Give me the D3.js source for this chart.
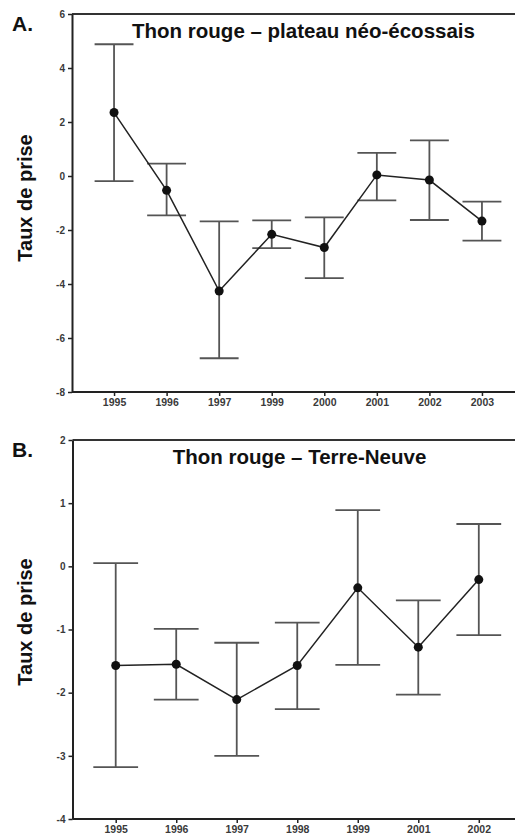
<!DOCTYPE html>
<html>
<head>
<meta charset="utf-8">
<script src="https://cdn.jsdelivr.net/npm/d3@7"></script>
<style>
  body { margin: 0; background: #fff; }
  svg { display: block; font-family: "Liberation Sans", Arial, sans-serif; }
</style>
</head>
<body>
<svg id="chart" width="515" height="835"></svg>
<script>
// Panel A - plateau néo-écossais
const yearsA = ['1995', '1996', '1997', '1999', '2000', '2001', '2002', '2003'];
const meanA = [2.35, -0.53, -4.26, -2.16, -2.65, 0.04, -0.15, -1.67];
const upperA = [4.88, 0.46, -1.68, -1.64, -1.53, 0.86, 1.32, -0.95];
const lowerA = [-0.19, -1.46, -6.75, -2.67, -3.78, -0.9, -1.63, -2.39];
const yTicksA = [6, 4, 2, 0, -2, -4, -6, -8];

// Panel B - Terre-Neuve
const yearsB = ['1995', '1996', '1997', '1998', '1999', '2001', '2002'];
const meanB = [-1.57, -1.55, -2.11, -1.57, -0.34, -1.28, -0.21];
const upperB = [0.05, -0.99, -1.21, -0.89, 0.89, -0.54, 0.67];
const lowerB = [-3.18, -2.11, -3.0, -2.26, -1.56, -2.03, -1.09];
const yTicksB = [2, 1, 0, -1, -2, -3, -4];

const svg = d3.select('#chart');

function drawPanel(opts) {
  const g = svg.append('g');
  const x = d3.scalePoint().domain(opts.years)
    .range([opts.left, opts.right]).padding(opts.pad);
  const y = d3.scaleLinear().domain(d3.extent(opts.ticks))
    .range([opts.bottom, opts.top]);

  // top frame line
  g.append('line')
    .attr('x1', opts.left).attr('x2', 515)
    .attr('y1', opts.top).attr('y2', opts.top)
    .attr('stroke', '#333').attr('stroke-width', 2);

  const yAxis = g.append('g')
    .attr('transform', `translate(${opts.left},0)`)
    .call(d3.axisLeft(y).tickValues(opts.ticks).tickFormat(d => String(d))
      .tickSize(4).tickSizeOuter(0).tickPadding(3));
  const xAxis = g.append('g')
    .attr('transform', `translate(0,${opts.bottom})`)
    .call(d3.axisBottom(x).tickSize(4).tickSizeOuter(0).tickPadding(3));
  xAxis.select('.domain').attr('d', `M${opts.left},0H515`);
  [yAxis, xAxis].forEach(a => {
    a.select('.domain').attr('stroke', '#222').attr('stroke-width', 2);
    a.selectAll('.tick line').attr('stroke', '#222').attr('stroke-width', 1.5);
    a.selectAll('.tick text').attr('fill', '#3a3a3a').attr('font-weight', 'bold')
      .attr('font-family', '"Liberation Sans", Arial, sans-serif');
  });
  yAxis.selectAll('.tick text').attr('font-size', 10);
  xAxis.selectAll('.tick text').attr('font-size', 10.5);

  const cap = x.step() * 0.37;
  const bars = g.append('g').attr('stroke', '#555').attr('stroke-width', 1.8);
  opts.years.forEach((yr, i) => {
    const cx = x(yr);
    bars.append('line').attr('x1', cx).attr('x2', cx)
      .attr('y1', y(opts.upper[i])).attr('y2', y(opts.lower[i]));
    bars.append('line').attr('x1', cx - cap).attr('x2', cx + cap)
      .attr('y1', y(opts.upper[i])).attr('y2', y(opts.upper[i]));
    bars.append('line').attr('x1', cx - cap).attr('x2', cx + cap)
      .attr('y1', y(opts.lower[i])).attr('y2', y(opts.lower[i]));
  });

  g.append('path')
    .attr('d', d3.line().x((d, i) => x(opts.years[i])).y(d => y(d))(opts.mean))
    .attr('fill', 'none').attr('stroke', '#222').attr('stroke-width', 1.5);

  g.selectAll('circle.pt')
    .data(opts.mean)
    .enter()
    .append('circle')
    .attr('cx', (d, i) => x(opts.years[i]))
    .attr('cy', d => y(d))
    .attr('r', 4.5)
    .attr('fill', '#111');

  g.append('text')
    .attr('x', opts.titleX).attr('y', opts.top + 24)
    .attr('text-anchor', 'middle')
    .attr('font-size', 20.5).attr('font-weight', 'bold').attr('fill', '#111')
    .text(opts.title);

  g.append('text')
    .attr('x', 12).attr('y', opts.top + 17)
    .attr('font-size', 21).attr('font-weight', 'bold').attr('fill', '#111')
    .text(opts.letter);

  g.append('text')
    .attr('transform', `translate(32,${opts.labelY}) rotate(-90)`)
    .attr('text-anchor', 'middle')
    .attr('font-size', 20).attr('font-weight', 'bold').attr('fill', '#111')
    .text('Taux de prise');
}

drawPanel({
  years: yearsA, mean: meanA, upper: upperA, lower: lowerA, ticks: yTicksA,
  left: 72, right: 524, pad: 0.8, top: 14, bottom: 392,
  title: 'Thon rouge – plateau néo-écossais', titleX: 303.5, letter: 'A.', labelY: 198
});

drawPanel({
  years: yearsB, mean: meanB, upper: upperB, lower: lowerB, ticks: yTicksB,
  left: 72.5, right: 522, pad: 0.714, top: 440, bottom: 819,
  title: 'Thon rouge – Terre-Neuve', titleX: 299.5, letter: 'B.', labelY: 622
});
</script>
</body>
</html>
